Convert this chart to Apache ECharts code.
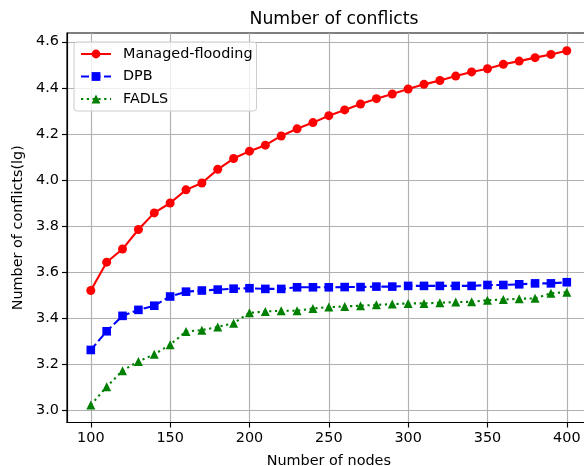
<!DOCTYPE html>
<html>
<head>
<meta charset="utf-8">
<script src="https://cdn.jsdelivr.net/npm/echarts@6/dist/echarts.min.js"></script>
<style>
  html, body { margin: 0; padding: 0; background: #fff; }
  #chart { width: 584px; height: 466px; }
</style>
</head>
<body>
<div id="chart"></div>
<script>
// Number of nodes in the network
const nodes = [100, 110, 120, 130, 140, 150, 160, 170, 180, 190, 200,
               210, 220, 230, 240, 250, 260, 270, 280, 290, 300,
               310, 320, 330, 340, 350, 360, 370, 380, 390, 400];

// Number of conflicts, log10 scale
const managedFlooding = [3.520, 3.643, 3.700, 3.785, 3.857, 3.900, 3.957, 3.987, 4.046, 4.093, 4.125,
                         4.151, 4.191, 4.222, 4.249, 4.279, 4.304, 4.330, 4.353, 4.373, 4.395,
                         4.415, 4.432, 4.451, 4.469, 4.483, 4.502, 4.516, 4.531, 4.545, 4.561];
const dpb = [3.262, 3.343, 3.410, 3.436, 3.454, 3.494, 3.515, 3.520, 3.524, 3.528, 3.530,
             3.527, 3.527, 3.534, 3.534, 3.534, 3.535, 3.535, 3.537, 3.537, 3.540,
             3.540, 3.540, 3.540, 3.540, 3.544, 3.544, 3.547, 3.551, 3.551, 3.556];
const fadls = [3.023, 3.102, 3.172, 3.212, 3.243, 3.285, 3.342, 3.348, 3.362, 3.378, 3.423,
               3.429, 3.432, 3.432, 3.442, 3.448, 3.451, 3.454, 3.458, 3.461, 3.464,
               3.464, 3.467, 3.470, 3.471, 3.478, 3.481, 3.484, 3.486, 3.508, 3.513];

// Tick positions
const xTicks = [100, 150, 200, 250, 300, 350, 400];
const yTicks = [3.0, 3.2, 3.4, 3.6, 3.8, 4.0, 4.2, 4.4, 4.6];

const FONT = 'DejaVu Sans';
const pairs = ys => nodes.map((x, i) => [x, ys[i]]);

const chart = echarts.init(document.getElementById('chart'), null, { renderer: 'canvas' });

chart.setOption({
  animation: false,
  backgroundColor: '#ffffff',
  textStyle: { fontFamily: FONT },
  title: {
    text: 'Number of conflicts',
    left: 329, top: 6, textAlign: 'center',
    textStyle: { fontFamily: FONT, fontSize: 17.3, fontWeight: 'normal', color: '#000' }
  },
  grid: {
    left: 67, top: 33, width: 523.6, height: 389.5,
    outerBoundsMode: 'none',
    containLabel: false,
    show: true, borderColor: '#000', borderWidth: 1.15, backgroundColor: 'transparent'
  },
  legend: {
    orient: 'vertical',
    left: 74, top: 42,
    padding: [5, 4, 5, 6],
    itemWidth: 30, itemHeight: 11, itemGap: 8.5,
    backgroundColor: 'rgba(255,255,255,0.8)',
    borderColor: '#cccccc', borderWidth: 1, borderRadius: 3,
    textStyle: { fontFamily: FONT, fontSize: 14.4, color: '#000', padding: [0, 0, 0, 7] },
    data: ['Managed-flooding', 'DPB', 'FADLS']
  },
  xAxis: {
    type: 'value',
    min: 85, max: 415,
    name: 'Number of nodes',
    nameLocation: 'middle', nameGap: 32,
    nameTextStyle: { fontFamily: FONT, fontSize: 14.4, color: '#000' },
    axisLine: { show: true, lineStyle: { color: '#000', width: 1.15 } },
    axisTick: { show: true, inside: false, length: 5, customValues: xTicks,
                lineStyle: { color: '#000', width: 1.15 } },
    axisLabel: { customValues: xTicks, margin: 9, fontFamily: FONT, fontSize: 14.4, color: '#000' },
    splitLine: { show: true, lineStyle: { color: '#b0b0b0', width: 1.15 } }
  },
  yAxis: {
    type: 'value',
    min: 2.947, max: 4.638,
    name: 'Number of conflicts(lg)',
    nameLocation: 'middle', nameGap: 42, nameRotate: 90,
    nameTextStyle: { fontFamily: FONT, fontSize: 14.4, color: '#000' },
    axisLine: { show: true, lineStyle: { color: '#000', width: 1.15 } },
    axisTick: { show: true, inside: false, length: 5, customValues: yTicks,
                lineStyle: { color: '#000', width: 1.15 } },
    axisLabel: { customValues: yTicks, margin: 8, fontFamily: FONT, fontSize: 14.4, color: '#000',
                 formatter: v => v.toFixed(1) },
    splitLine: { show: true, lineStyle: { color: '#b0b0b0', width: 1.15 } }
  },
  series: [
    {
      name: 'Managed-flooding', type: 'line',
      data: pairs(managedFlooding),
      symbol: 'circle', symbolSize: 9, showAllSymbol: true,
      lineStyle: { color: '#ff0000', width: 2.1, type: 'solid' },
      itemStyle: { color: '#ff0000' },
      z: 3
    },
    {
      name: 'DPB', type: 'line',
      data: pairs(dpb),
      symbol: 'rect', symbolSize: 8.6, showAllSymbol: true,
      lineStyle: { color: '#0000ff', width: 2.1, type: [8, 3.5] },
      itemStyle: { color: '#0000ff' },
      z: 4
    },
    {
      name: 'FADLS', type: 'line',
      data: pairs(fadls),
      symbol: 'triangle', symbolSize: 9, showAllSymbol: true,
      lineStyle: { color: '#008000', width: 2.1, type: [2.2, 3.6] },
      itemStyle: { color: '#008000' },
      z: 5
    }
  ]
});
</script>
</body>
</html>
